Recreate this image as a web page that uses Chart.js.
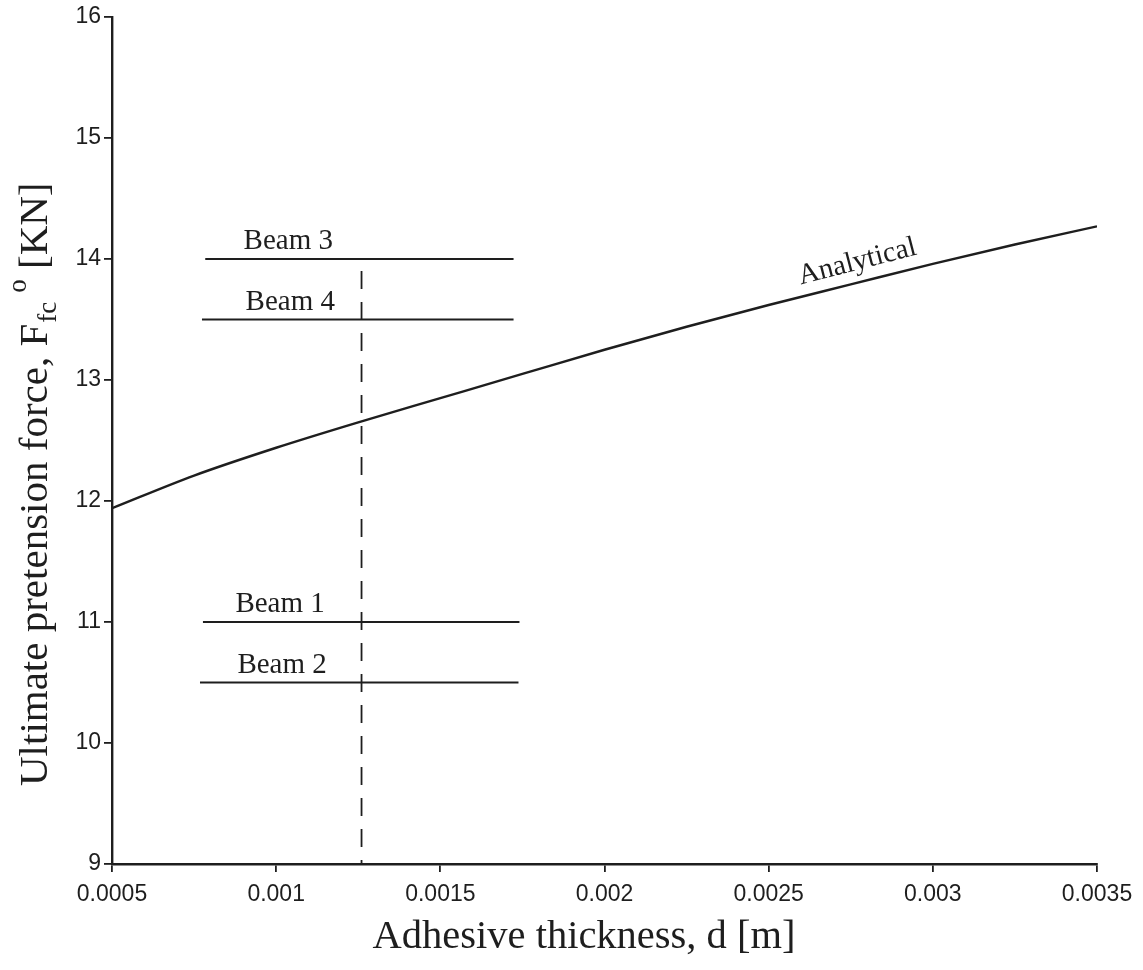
<!DOCTYPE html>
<html>
<head>
<meta charset="utf-8">
<script src="https://cdn.jsdelivr.net/npm/chart.js@4.4.0/dist/chart.umd.min.js"></script>
<style>
    html, body { margin: 0; padding: 0; background: #fff; }
    #wrap { width: 1143px; height: 970px; }
</style>
</head>
<body>
<div id="wrap"><canvas id="chart"></canvas></div>
<script>
// ========================================
// Ultimate pretension force vs adhesive thickness
// ========================================

// Analytical curve
const thickness = [0.0005, 0.00075, 0.001, 0.00125, 0.0015, 0.00175, 0.002, 0.00225, 0.0025, 0.00275, 0.003, 0.00325, 0.0035];
const analytical = [11.94, 12.21, 12.44, 12.65, 12.85, 13.05, 13.25, 13.44, 13.62, 13.79, 13.96, 14.12, 14.27];

// Test beams (horizontal segments)
const beamNames = ['Beam 1', 'Beam 2', 'Beam 3', 'Beam 4'];
const beamForces = [11, 10.5, 14, 13.5];
const beamStart = [0.000777, 0.000768, 0.000784, 0.000774];
const beamEnd = [0.001741, 0.001738, 0.001723, 0.001723];
const beamLabelX = [0.001012, 0.001018, 0.001037, 0.001043];

// Dashed vertical marker
const markerX = 0.00126;
const markerForces = [13.9, 9];

// Label of the analytical curve
const curveLabel = 'Analytical';
const curveLabelAt = [0.00277, 13.975];

// Axis ticks
const xTicks = [0.0005, 0.001, 0.0015, 0.002, 0.0025, 0.003, 0.0035];
const yTicks = [9, 10, 11, 12, 13, 14, 15, 16];

const serif = "'Liberation Serif', 'Times New Roman', serif";
const sans = "'Liberation Sans', Arial, sans-serif";
const ink = '#1e1e1e';

// Build datasets
const datasets = [{
    label: 'Analytical',
    data: thickness.map((x, i) => ({ x: x, y: analytical[i] })),
    showLine: true,
    borderColor: ink,
    borderWidth: 2.4,
    pointRadius: 0,
    cubicInterpolationMode: 'monotone'
}];

beamNames.forEach((name, i) => {
    datasets.push({
        label: name,
        data: [{ x: beamStart[i], y: beamForces[i] }, { x: beamEnd[i], y: beamForces[i] }],
        showLine: true,
        borderColor: ink,
        borderWidth: 1.8,
        pointRadius: 0
    });
});

datasets.push({
    label: 'marker',
    data: markerForces.map(f => ({ x: markerX, y: f })),
    showLine: true,
    borderColor: ink,
    borderWidth: 1.8,
    borderDash: [18, 13],
    pointRadius: 0
});

// Text labels: beams, curve name, axis titles
const labelsPlugin = {
    id: 'labels',
    afterDatasetsDraw(chart) {
        const ctx = chart.ctx;
        const xs = chart.scales.x;
        const ys = chart.scales.y;
        ctx.save();
        ctx.fillStyle = ink;

        // Beam names above their lines
        ctx.font = '29px ' + serif;
        ctx.textAlign = 'center';
        ctx.textBaseline = 'alphabetic';
        beamNames.forEach((name, i) => {
            ctx.fillText(name, xs.getPixelForValue(beamLabelX[i]), ys.getPixelForValue(beamForces[i]) - 10);
        });

        // Curve label, rotated along the line
        ctx.save();
        ctx.translate(xs.getPixelForValue(curveLabelAt[0]), ys.getPixelForValue(curveLabelAt[1]));
        ctx.rotate(-14.5 * Math.PI / 180);
        ctx.font = '29px ' + serif;
        ctx.textBaseline = 'middle';
        ctx.fillText(curveLabel, 0, 0);
        ctx.restore();

        // X axis title
        ctx.font = '40.5px ' + serif;
        ctx.textAlign = 'center';
        ctx.textBaseline = 'alphabetic';
        ctx.fillText('Adhesive thickness, d [m]', 584, 948);

        // Y axis title with sub- and superscript
        ctx.save();
        ctx.translate(47, 786);
        ctx.rotate(-Math.PI / 2);
        ctx.textAlign = 'left';
        let pos = 0;
        ctx.font = '41px ' + serif;
        const main = 'Ultimate pretension force, F';
        ctx.fillText(main, pos, 0);
        pos += ctx.measureText(main).width + 1;
        ctx.font = '27px ' + serif;
        ctx.fillText('fc', pos, 9);
        pos += ctx.measureText('fc').width + 9;
        ctx.fillText('o', pos, -21);
        pos += ctx.measureText('o').width;
        ctx.font = '41px ' + serif;
        ctx.fillText(' [KN]', pos, 0);
        ctx.restore();

        ctx.restore();
    }
};

const ctx = document.getElementById('chart').getContext('2d');
new Chart(ctx, {
    type: 'scatter',
    data: { datasets: datasets },
    options: {
        responsive: true,
        maintainAspectRatio: false,
        animation: false,
        layout: {
            padding: { left: 0, right: 46, top: 17, bottom: 0 }
        },
        plugins: {
            legend: { display: false },
            tooltip: { enabled: false }
        },
        scales: {
            x: {
                type: 'linear',
                min: xTicks[0],
                max: xTicks[xTicks.length - 1],
                afterBuildTicks: scale => { scale.ticks = xTicks.map(v => ({ value: v })); },
                afterFit: scale => { scale.height = 106; },
                grid: {
                    drawOnChartArea: false,
                    drawTicks: true,
                    tickLength: 8,
                    color: ink,
                    lineWidth: 1.8
                },
                border: { display: true, color: ink, width: 2.4 },
                ticks: {
                    color: ink,
                    padding: 9,
                    maxRotation: 0,
                    font: { size: 23, family: sans },
                    callback: value => String(value)
                }
            },
            y: {
                type: 'linear',
                min: yTicks[0],
                max: yTicks[yTicks.length - 1],
                afterBuildTicks: scale => { scale.ticks = yTicks.map(v => ({ value: v })); },
                afterFit: scale => { scale.width = 112; },
                grid: {
                    drawOnChartArea: false,
                    drawTicks: true,
                    tickLength: 8,
                    color: ink,
                    lineWidth: 1.8
                },
                border: { display: true, color: ink, width: 2.4 },
                ticks: {
                    color: ink,
                    padding: 3,
                    font: { size: 23, family: sans },
                    callback: value => String(value)
                }
            }
        }
    },
    plugins: [labelsPlugin]
});
</script>
</body>
</html>
